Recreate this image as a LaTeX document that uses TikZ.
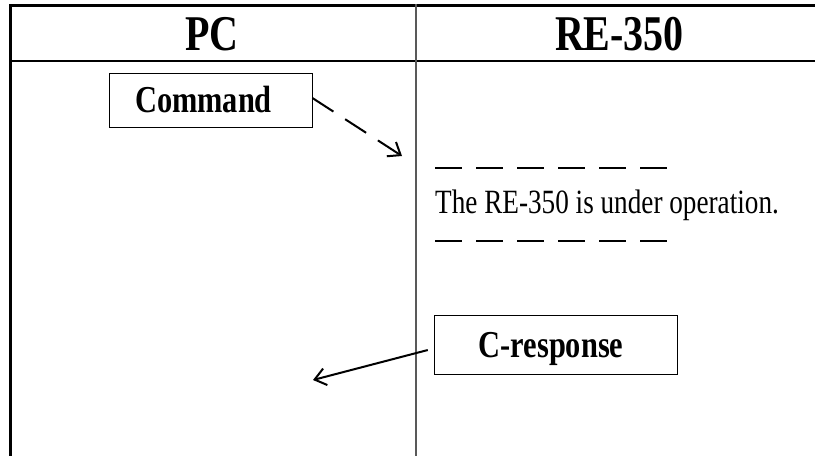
\documentclass[tikz,border=0pt]{standalone}
\usepackage{fontspec}
\setmainfont{Liberation Serif}[FakeStretch=0.8]
\usetikzlibrary{arrows.meta}
\begin{document}
\begin{tikzpicture}[x=1pt,y=-1pt,
  header/.style={font=\fontsize{50}{50}\selectfont\bfseries, inner sep=0pt, anchor=base},
  msgbox/.style={draw, line width=0.8pt, inner sep=0pt, text height=25pt, text depth=0pt,
    font=\fontsize{38}{38}\selectfont\bfseries},
  note/.style={font=\fontsize{34}{34}\selectfont, inner sep=0pt, anchor=base west},
  sep/.style={line width=1.2pt, dash pattern=on 27pt off 14pt},
  msg/.style={line width=2pt, -{Straight Barb[length=11pt,width=17pt,line width=2pt]}}
]
\useasboundingbox (0,0) rectangle (815,456);
% table frame
\draw[line width=3pt] (10,5.5) -- (815,5.5);
\draw[line width=3pt] (10.5,4) -- (10.5,456);
\draw[line width=2pt] (10,60.5) -- (815,60.5);
\draw[line width=1.5pt, black!65] (416,4) -- (416,456);
% headers
\node[header] (pc) at (212,50) {PC};
\node[header] (re) at (619.5,50) {RE-350};
% command box and arrow
\node[msgbox, minimum width=203pt, minimum height=54pt] (cmd) at (210.5,100) {Command\hspace*{14pt}};
\coordinate (cmdend) at (402,156);
\draw[msg, dash pattern=on 25pt off 14pt] ([yshift=2pt]cmd.east) -- (cmdend);
% status note
\coordinate (s1) at (435,168);
\coordinate (s2) at (667,168);
\draw[sep] (s1) -- (s2);
\node[note] (txt) at (435,213) {The RE-350 is under operation.};
\coordinate (s3) at (435,241);
\coordinate (s4) at (667,241);
\draw[sep] (s3) -- (s4);
% response box and arrow
\node[msgbox, minimum width=243pt, minimum height=59pt] (resp) at (555.5,344.5) {C-response\hspace*{9pt}};
\coordinate (respend) at (313,380);
\draw[msg, shorten <=6pt] ([yshift=-4pt]resp.west) -- (respend);
\end{tikzpicture}
\end{document}
